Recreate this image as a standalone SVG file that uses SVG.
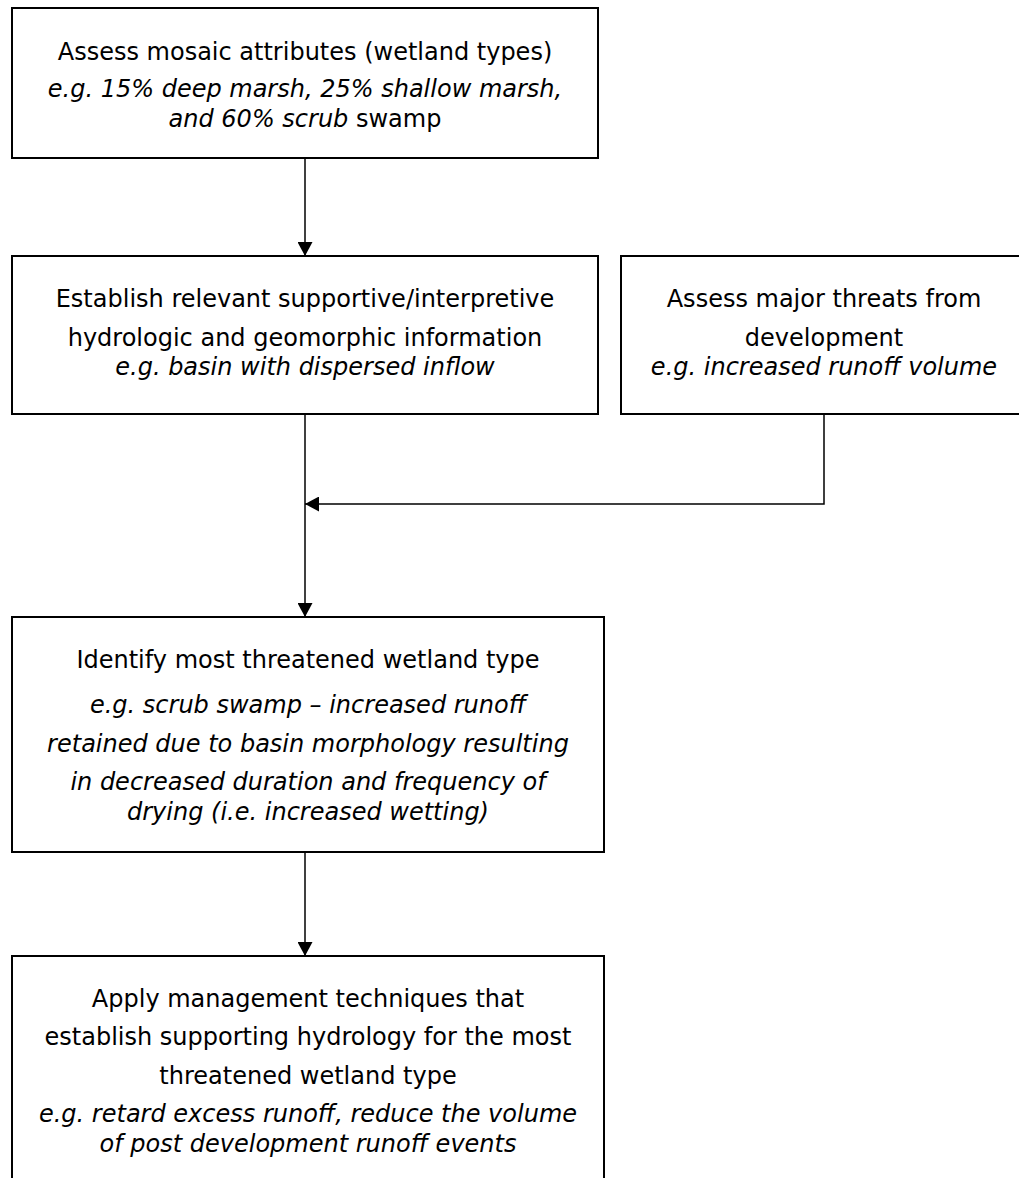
<svg xmlns="http://www.w3.org/2000/svg" width="1019" height="1178" viewBox="0 0 1019 1178">
  <style>
    .box { fill: #ffffff; stroke: #000000; stroke-width: 2; }
    .t { font-family: "DejaVu Sans", "Liberation Sans", sans-serif; font-size: 24px; fill: #000000; text-anchor: middle; }
    .i { font-style: italic; }
    .n { font-style: normal; }
    .conn { fill: none; stroke: #000000; stroke-width: 1.5; }
  </style>
  <defs>
    <marker id="arrow" markerUnits="userSpaceOnUse" markerWidth="15" markerHeight="15" refX="14" refY="7.5" orient="auto">
      <path d="M0,0 L14,7.5 L0,15 Z" fill="#000000"/>
    </marker>
  </defs>
  <rect width="1019" height="1178" fill="#ffffff"/>

  <g id="node-assess-mosaic">
    <rect class="box" x="12" y="8" width="586" height="150"/>
    <text class="t" x="305" y="60">Assess mosaic attributes (wetland types)</text>
    <text class="t i" x="305" y="97">e.g. 15% deep marsh, 25% shallow marsh,</text>
    <text class="t" x="305" y="127"><tspan class="i">and 60% scrub</tspan><tspan class="n"> swamp</tspan></text>
  </g>

  <g id="node-establish-hydrologic">
    <rect class="box" x="12" y="256" width="586" height="158"/>
    <text class="t" x="305" y="307">Establish relevant supportive/interpretive</text>
    <text class="t" x="305" y="346">hydrologic and geomorphic information</text>
    <text class="t i" x="305" y="375">e.g. basin with dispersed inflow</text>
  </g>

  <g id="node-assess-threats">
    <rect class="box" x="621" y="256" width="406" height="158"/>
    <text class="t" x="824" y="307">Assess major threats from</text>
    <text class="t" x="824" y="346">development</text>
    <text class="t i" x="824" y="375">e.g. increased runoff volume</text>
  </g>

  <g id="node-identify-threatened">
    <rect class="box" x="12" y="617" width="592" height="235"/>
    <text class="t" x="308" y="668">Identify most threatened wetland type</text>
    <text class="t i" x="308" y="713">e.g. scrub swamp – increased runoff</text>
    <text class="t i" x="308" y="752">retained due to basin morphology resulting</text>
    <text class="t i" x="308" y="790">in decreased duration and frequency of</text>
    <text class="t i" x="308" y="820">drying (i.e. increased wetting)</text>
  </g>

  <g id="node-apply-management">
    <rect class="box" x="12" y="956" width="592" height="240"/>
    <text class="t" x="308" y="1007">Apply management techniques that</text>
    <text class="t" x="308" y="1045">establish supporting hydrology for the most</text>
    <text class="t" x="308" y="1084">threatened wetland type</text>
    <text class="t i" x="308" y="1122">e.g. retard excess runoff, reduce the volume</text>
    <text class="t i" x="308" y="1152">of post development runoff events</text>
  </g>

  <g id="connectors">
    <line class="conn" x1="305" y1="158" x2="305" y2="256" marker-end="url(#arrow)"/>
    <line class="conn" x1="305" y1="414" x2="305" y2="617" marker-end="url(#arrow)"/>
    <polyline class="conn" points="824,414 824,504 305,504" marker-end="url(#arrow)"/>
    <line class="conn" x1="305" y1="852" x2="305" y2="956" marker-end="url(#arrow)"/>
  </g>
</svg>
